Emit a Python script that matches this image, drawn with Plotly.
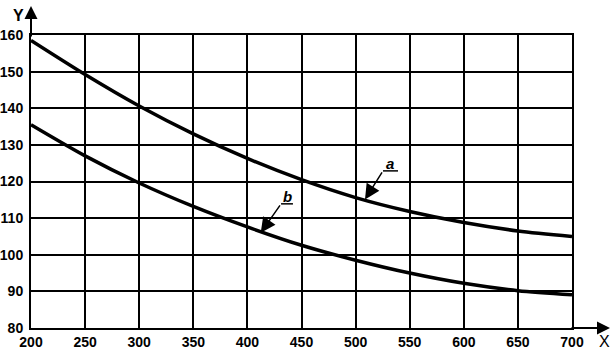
import plotly.graph_objects as go

x_vals = [200, 250, 300, 350, 400, 450, 500, 550, 600, 650, 700]
curve_a = [158.5, 149.2, 140.6, 133.0, 126.3, 120.5, 115.6, 111.8, 108.8, 106.5, 105.0]
curve_b = [135.5, 127.0, 119.6, 113.2, 107.6, 102.6, 98.5, 95.0, 92.2, 90.2, 89.1]
x_ticks = [200, 250, 300, 350, 400, 450, 500, 550, 600, 650, 700]
y_ticks = [80, 90, 100, 110, 120, 130, 140, 150, 160]

L, R, T, B = 31, 41, 35, 24
W, H = 613, 352
PW, PH = W - L - R, H - T - B


def px2paper(px, py):
    return (px - L) / PW, (H - B - py) / PH


fig = go.Figure()
for ys in (curve_a, curve_b):
    fig.add_trace(go.Scatter(x=x_vals, y=ys, mode="lines",
                             line=dict(color="black", width=3.5, shape="spline", smoothing=0.8),
                             showlegend=False, hoverinfo="skip"))

font = dict(family="Liberation Sans, Arial", size=14, color="black", weight="bold")
fig.update_layout(
    width=W, height=H,
    margin=dict(l=L, r=R, t=T, b=B),
    paper_bgcolor="white", plot_bgcolor="white",
    xaxis=dict(range=[200, 700], tickvals=x_ticks, ticktext=[str(v) for v in x_ticks],
               showgrid=True, gridcolor="black", gridwidth=2,
               showline=True, linecolor="black", linewidth=2, mirror=True,
               ticks="", tickfont=font, zeroline=False, automargin=False, ticklabelstandoff=0),
    yaxis=dict(range=[80, 160], tickvals=y_ticks, ticktext=[str(v) for v in y_ticks],
               showgrid=True, gridcolor="black", gridwidth=2,
               showline=True, linecolor="black", linewidth=2, mirror=True,
               ticks="", tickfont=font, zeroline=False, ticklabelstandoff=3, automargin=False),
)

# axis arrows
fig.add_annotation(x=200, y=px2paper(0, 6)[1], xref="x", yref="paper", ax=0, ay=32,
                   showarrow=True, arrowhead=2, arrowsize=1.3, arrowwidth=2, arrowcolor="black", text="")
fig.add_annotation(x=px2paper(610, 0)[0], y=80, xref="paper", yref="y", ax=-40, ay=0,
                   showarrow=True, arrowhead=2, arrowsize=1.3, arrowwidth=2, arrowcolor="black", text="")
yx, yy = px2paper(18, 15)
fig.add_annotation(x=yx, y=yy, xref="paper", yref="paper", text="Y", showarrow=False,
                   xanchor="center", yanchor="middle",
                   font=dict(family="Liberation Sans, Arial", size=16, color="black", weight="bold"))
xx, xy = px2paper(604, 341)
fig.add_annotation(x=xx, y=xy, xref="paper", yref="paper", text="X", showarrow=False,
                   xanchor="center", yanchor="middle",
                   font=dict(family="Liberation Sans, Arial", size=16, color="black"))

# curve labels
for lbl, tx, ty, ux0, ux1, uy, px, py in [
    ("a", 531.8, 125.0, 525.3, 539.2, 122.9, 508.7, 115.1),
    ("b", 437.5, 116.0, 431.1, 442.1, 113.9, 412.3, 106.0),
]:
    fig.add_annotation(x=tx, y=ty, text="<b><i>%s</i></b>" % lbl, showarrow=False,
                       font=dict(family="Liberation Sans, Arial", size=15, color="black"))
    fig.add_shape(type="line", x0=ux0, x1=ux1, y0=uy, y1=uy, line=dict(color="black", width=1.5))
    fig.add_annotation(x=px, y=py, ax=ux0, ay=uy, axref="x", ayref="y", text="",
                       showarrow=True, arrowhead=2, arrowsize=2, arrowwidth=1.5, arrowcolor="black")

fig.write_html("out.html")
